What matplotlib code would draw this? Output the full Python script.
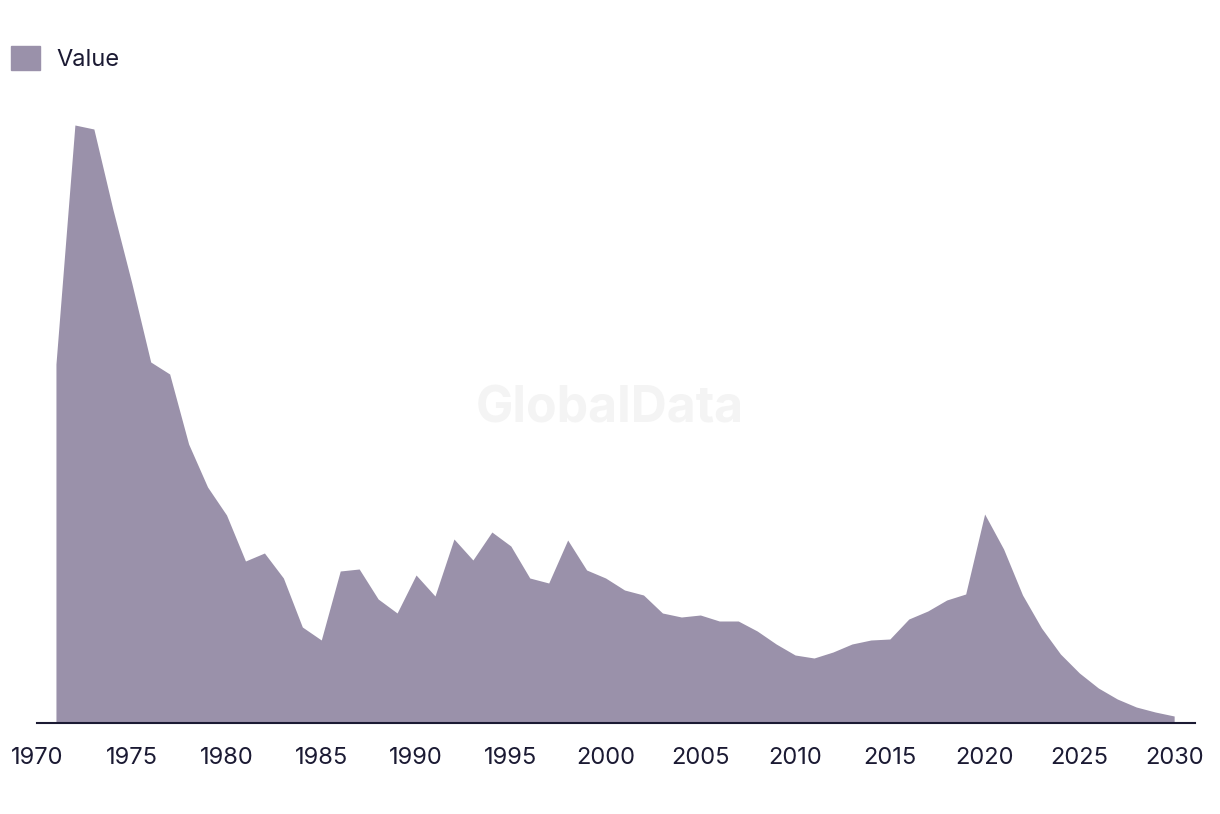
import numpy as np
import matplotlib.pyplot as plt
from matplotlib.patches import Patch

###### Data
years = list(range(1971, 2031))
values = [359, 598, 594, 514, 440, 361, 349, 279, 236, 208,
          162, 170, 145, 96, 83, 152, 154, 124, 110, 148,
          127, 184, 163, 191, 177, 145, 140, 183, 153, 145,
          133, 128, 110, 106, 108, 102, 102, 92, 79, 68,
          65, 71, 79, 83, 84, 104, 112, 123, 129, 209,
          174, 128, 95, 69, 50, 35, 24, 16, 11, 7]
tick_years = list(range(1970, 2031, 5))

fill_color = '#9A91AA'
text_color = '#1B1A33'

plt.rcParams['font.family'] = ['Inter', 'DejaVu Sans']

fig = plt.figure(figsize=(12.2, 8.14), dpi=100)
ax = fig.add_axes([37 / 1220, 91 / 814, (1195 - 37) / 1220, 623 / 814])

ax.fill_between(years, values, 0, color=fill_color, linewidth=0)
ax.set_xlim(1970, 2031.1)
ax.set_ylim(0, 623)

for side in ['top', 'right', 'left']:
	ax.spines[side].set_visible(False)
ax.spines['bottom'].set_color(text_color)
ax.spines['bottom'].set_linewidth(1.5)
ax.set_yticks([])
ax.set_xticks(tick_years)
ax.set_xticklabels([str(y) for y in tick_years])
ax.tick_params(axis='x', length=0, pad=17, labelsize=17, labelcolor=text_color)

# watermark
fig.text(0.5, 0.498, 'GlobalData', ha='center', va='center', fontsize=36,
         fontweight='bold', color='#F4F4F4', zorder=0)

fig.legend(handles=[Patch(color=fill_color, label='Value')], loc='upper left',
           bbox_to_anchor=(-0.008, 0.97), frameon=False, fontsize=17,
           handlelength=1.2, handleheight=1.2, handletextpad=0.7,
           labelcolor=text_color)

fig.savefig('out.png', dpi=100)
